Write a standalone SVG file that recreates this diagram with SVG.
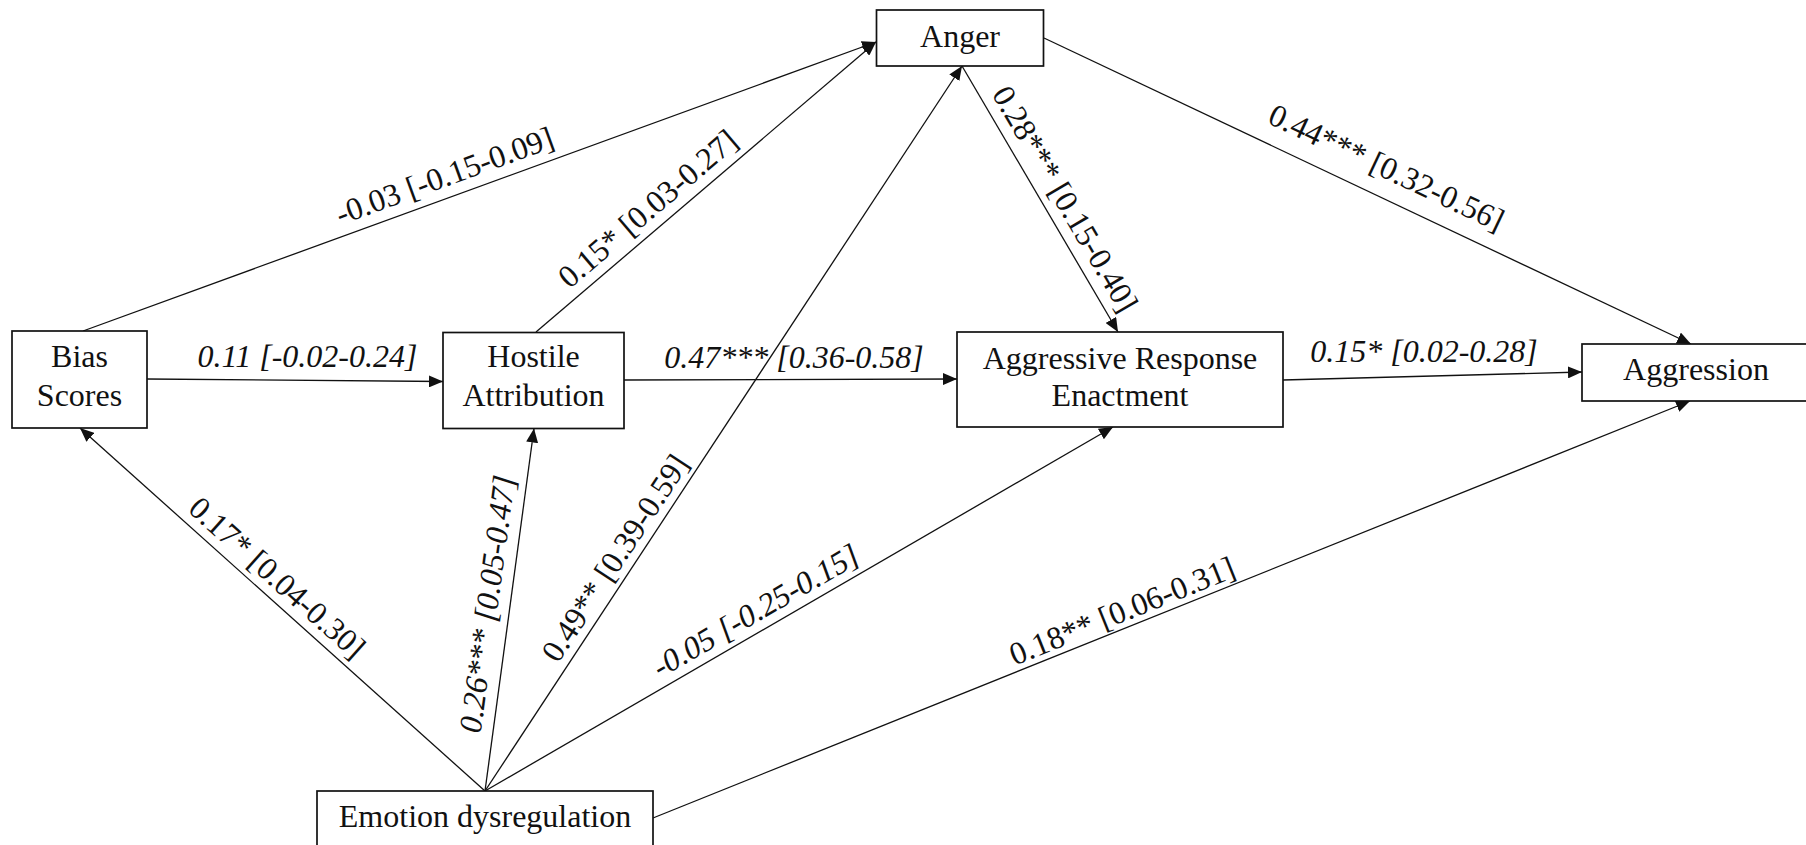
<svg xmlns="http://www.w3.org/2000/svg" width="1806" height="845" viewBox="0 0 1806 845">
  <style>
    .box { fill: #ffffff; stroke: #111111; stroke-width: 1.7; }
    .name { font-family: "Liberation Serif", "Times New Roman", serif; font-size: 32px; fill: #111111; text-anchor: middle; }
    .edge { fill: none; stroke: #111111; stroke-width: 1.3; marker-end: url(#head); }
    .lbl { font-family: "Liberation Serif", "Times New Roman", serif; font-size: 32px; fill: #111111; text-anchor: middle; }
    .it { font-style: italic; }
  </style>
  <defs>
    <marker id="head" viewBox="0 0 14 12" refX="14" refY="6" markerWidth="14" markerHeight="12" markerUnits="userSpaceOnUse" orient="auto">
      <path d="M0,0 L14,6 L0,12 z" fill="#111111"/>
    </marker>
  </defs>

  <rect width="1806" height="845" fill="#ffffff"/>

  <!-- paths between the variables -->
  <g id="connectors">
    <line class="edge" x1="147" y1="379" x2="443" y2="381.5"/>
    <line class="edge" x1="624" y1="380" x2="957" y2="379"/>
    <line class="edge" x1="1283" y1="380" x2="1582" y2="372"/>
    <line class="edge" x1="83" y1="331" x2="876" y2="42"/>
    <line class="edge" x1="536" y1="332" x2="876" y2="42"/>
    <line class="edge" x1="962" y1="66" x2="1118" y2="332"/>
    <line class="edge" x1="1044" y1="38" x2="1691" y2="344"/>
    <line class="edge" x1="485" y1="791" x2="80" y2="428"/>
    <line class="edge" x1="485" y1="791" x2="534" y2="428.5"/>
    <line class="edge" x1="485" y1="791" x2="962" y2="66"/>
    <line class="edge" x1="485" y1="791" x2="1113" y2="427"/>
    <line class="edge" x1="653" y1="818" x2="1690" y2="401"/>

    <!-- path coefficients with confidence intervals -->
    <text class="lbl it" x="307.5" y="367">0.11 [-0.02-0.24]</text>
    <text class="lbl it" x="794" y="368">0.47*** [0.36-0.58]</text>
    <text class="lbl it" x="1424" y="362">0.15* [0.02-0.28]</text>
    <text class="lbl" transform="translate(448.2 185.9) rotate(-20.02)">-0.03 [-0.15-0.09]</text>
    <text class="lbl" transform="translate(654.6 216.8) rotate(-40.47)">0.15* [0.03-0.27]</text>
    <text class="lbl" transform="translate(1056 204.4) rotate(59.61)">0.28*** [0.15-0.40]</text>
    <text class="lbl" transform="translate(1381.9 177.1) rotate(25.31)">0.44*** [0.32-0.56]</text>
    <text class="lbl" transform="translate(270.1 585.6) rotate(41.87)">0.17* [0.04-0.30]</text>
    <text class="lbl it" transform="translate(497.9 605.4) rotate(-82.29)">0.26*** [0.05-0.47]</text>
    <text class="lbl" transform="translate(623.9 563.8) rotate(-56.66)">0.49** [0.39-0.59]</text>
    <text class="lbl it" transform="translate(761.1 620) rotate(-30.09)">-0.05 [-0.25-0.15]</text>
    <text class="lbl" transform="translate(1126.1 620.9) rotate(-21.9)">0.18** [0.06-0.31]</text>
  </g>

  <g id="bias-scores">
    <rect class="box" x="12" y="331" width="135" height="97"/>
    <text class="name" x="79.5" y="367">Bias</text>
    <text class="name" x="79.5" y="406">Scores</text>
  </g>

  <g id="hostile-attribution">
    <rect class="box" x="443" y="332.5" width="181" height="96"/>
    <text class="name" x="533.5" y="367">Hostile</text>
    <text class="name" x="533.5" y="406">Attribution</text>
  </g>

  <g id="anger">
    <rect class="box" x="876.5" y="10" width="167" height="56"/>
    <text class="name" x="960" y="46.5">Anger</text>
  </g>

  <g id="aggressive-response-enactment">
    <rect class="box" x="957" y="332" width="326" height="95"/>
    <text class="name" x="1120" y="369">Aggressive Response</text>
    <text class="name" x="1120" y="406">Enactment</text>
  </g>

  <g id="aggression">
    <rect class="box" x="1582" y="344" width="240" height="57"/>
    <text class="name" x="1696" y="380">Aggression</text>
  </g>

  <g id="emotion-dysregulation">
    <rect class="box" x="317" y="791" width="336" height="64"/>
    <text class="name" x="485" y="826.5">Emotion dysregulation</text>
  </g>
</svg>
